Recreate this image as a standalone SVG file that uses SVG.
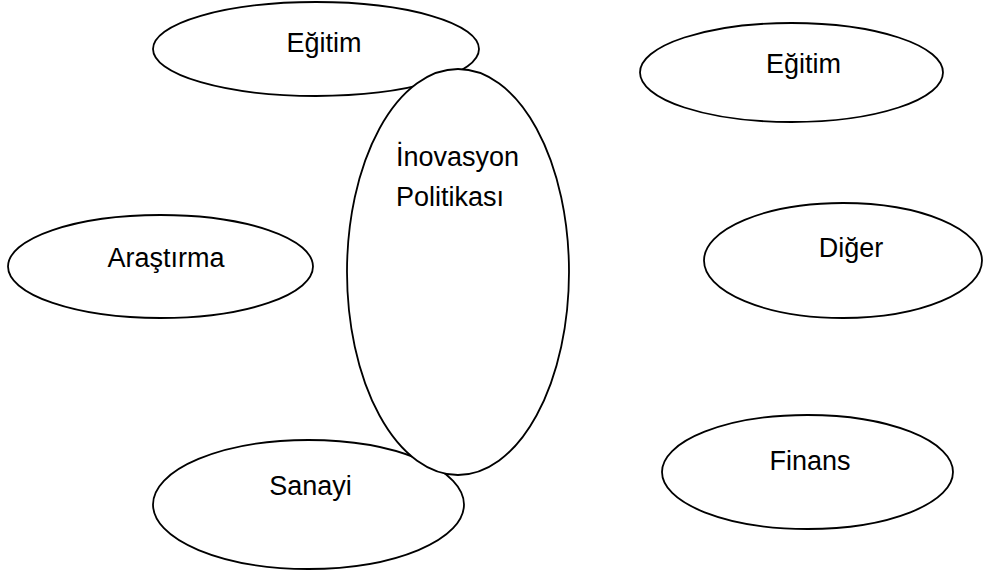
<svg xmlns="http://www.w3.org/2000/svg" width="983" height="575" viewBox="0 0 983 575">
  <style>
    .node ellipse { fill: #ffffff; stroke: #000000; stroke-width: 1.8; }
    .node text { font-family: "Liberation Sans", Arial, sans-serif; font-size: 27px; fill: #000000; text-anchor: middle; }
    .node text.left { text-anchor: start; }
  </style>
  <rect width="983" height="575" fill="#ffffff"/>
  <g id="connectors"/>

  <g id="egitim-left" class="node">
    <ellipse cx="316" cy="49" rx="163" ry="47"/>
    <text x="324" y="52">Eğitim</text>
  </g>

  <g id="sanayi" class="node">
    <ellipse cx="308.5" cy="504.5" rx="155.5" ry="64.5"/>
    <text x="310.5" y="495">Sanayi</text>
  </g>

  <!-- central policy ellipse sits above its two neighbours -->
  <g id="inovasyon-politikasi" class="node">
    <ellipse cx="458" cy="272" rx="111" ry="203"/>
    <text class="left" x="396" y="166">İnovasyon</text>
    <text class="left" x="396" y="206">Politikası</text>
  </g>

  <g id="arastirma" class="node">
    <ellipse cx="160.5" cy="266.5" rx="152.5" ry="51.5"/>
    <text x="166" y="267">Araştırma</text>
  </g>

  <g id="egitim-right" class="node">
    <ellipse cx="791.5" cy="72.5" rx="151.5" ry="49.5"/>
    <text x="803.5" y="73">Eğitim</text>
  </g>

  <g id="diger" class="node">
    <ellipse cx="843" cy="260.5" rx="139" ry="57.5"/>
    <text x="851" y="257">Diğer</text>
  </g>

  <g id="finans" class="node">
    <ellipse cx="807.5" cy="472" rx="145.5" ry="57"/>
    <text x="810" y="470">Finans</text>
  </g>
</svg>
